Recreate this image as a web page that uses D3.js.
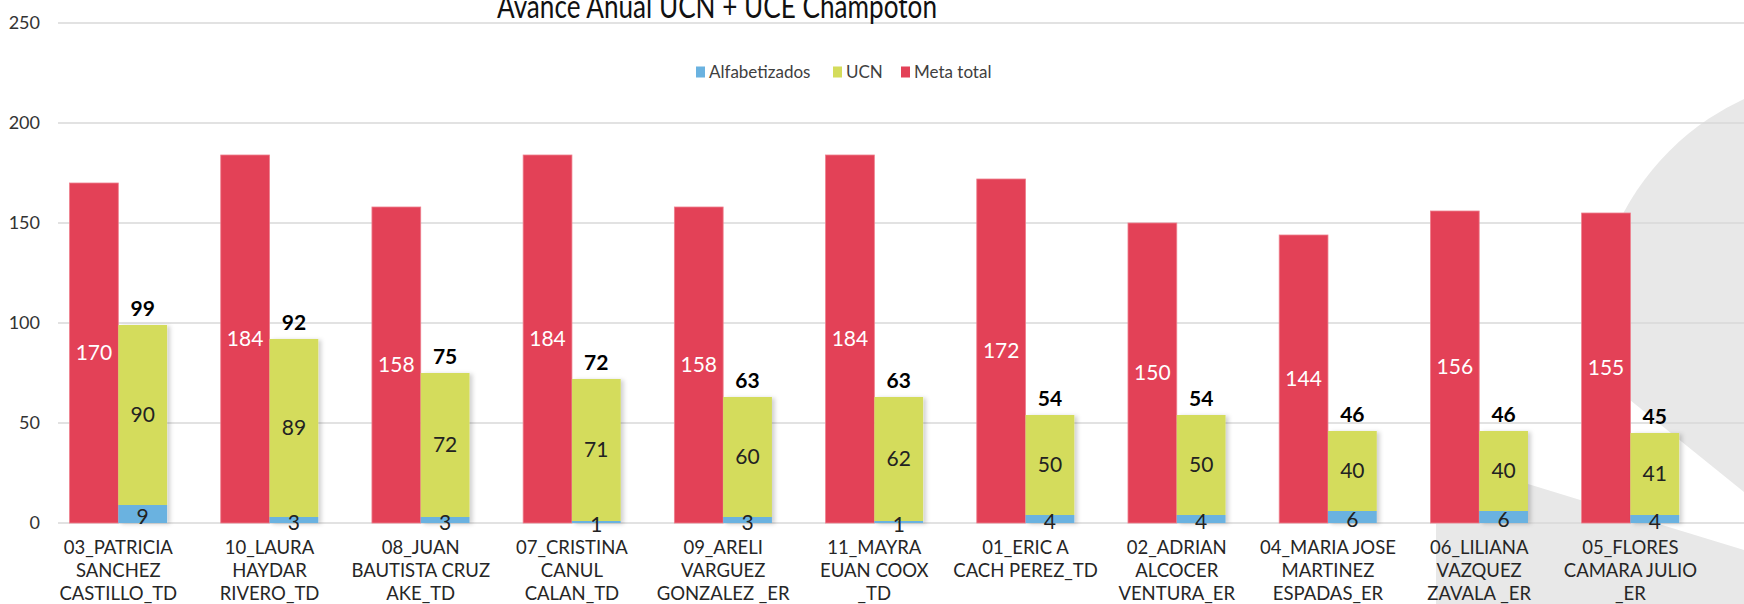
<!DOCTYPE html>
<html>
<head>
<meta charset="utf-8">
<script src="https://cdn.jsdelivr.net/npm/d3@7"></script>
<style>
html, body { margin: 0; padding: 0; background: #fff; overflow: hidden; }
#chart { width: 1744px; height: 604px; }
text { font-family: "Century Gothic", Lato, "Noto Sans", sans-serif; }
</style>
</head>
<body>
<div id="chart"></div>
<script>

/* ==========================
   Data
========================== */

const categories = [
"03_PATRICIA\nSANCHEZ\nCASTILLO_TD",
"10_LAURA\nHAYDAR\nRIVERO_TD",
"08_JUAN\nBAUTISTA CRUZ\nAKE_TD",
"07_CRISTINA\nCANUL\nCALAN_TD",
"09_ARELI\nVARGUEZ\nGONZALEZ _ER",
"11_MAYRA\nEUAN COOX\n_TD",
"01_ERIC A\nCACH PEREZ_TD",
"02_ADRIAN\nALCOCER\nVENTURA_ER",
"04_MARIA JOSE\nMARTINEZ\nESPADAS_ER",
"06_LILIANA\nVAZQUEZ\nZAVALA _ER",
"05_FLORES\nCAMARA JULIO\n_ER"
];

const metaTotal = [170, 184, 158, 184, 158, 184, 172, 150, 144, 156, 155];
const ucn = [90, 89, 72, 71, 60, 62, 50, 50, 40, 40, 41];
const alfabetizados = [9, 3, 3, 1, 3, 1, 4, 4, 6, 6, 4];

const yTicks = [0, 50, 100, 150, 200, 250];
const seriesNames = ["Alfabetizados", "UCN", "Meta total"];

const title = "Avance Anual UCN + UCE Champoton";

/* ==========================
   Setup
========================== */

const width = 1744;
const height = 604;

const colors = {
alf: "#6AB2E0",
ucn: "#D4DC5B",
meta: "#E34157"
};

const svg = d3.select("#chart")
.append("svg")
.attr("width", width)
.attr("height", height);

const defs = svg.append("defs");

const shadow = defs.append("filter")
.attr("id", "shadow")
.attr("x", "-20%").attr("y", "-20%")
.attr("width", "160%").attr("height", "140%");

shadow.append("feDropShadow")
.attr("dx", 3)
.attr("dy", 1)
.attr("stdDeviation", 2)
.attr("flood-color", "#000")
.attr("flood-opacity", 0.18);

// background decoration
defs.append("clipPath")
.attr("id", "cutCircle")
.append("polygon")
.attr("points", "1500,0 1744,0 1744,492 1630,400 1500,295");

svg.append("path")
.attr("d", () => {
const cx = 1853, cy = 335, r = 260;
const circle = d3.path();
circle.arc(cx, cy, r, 0, 2 * Math.PI);
return circle.toString();
})
.attr("fill", "#E8E8E8")
.attr("clip-path", "url(#cutCircle)");

svg.append("polygon")
.attr("points", "1436,456 1744,550 1744,604 1436,604")
.attr("fill", "#E8E8E8");

/* ==========================
   Scales
========================== */

const y = d3.scaleLinear()
.domain([0, 250])
.range([523, 23]);

const x = d3.scaleBand()
.domain(categories)
.range([42.7, 1706]);

const gapWidth = 1.1;

const inner = d3.scaleBand()
.domain(["meta", "stack"])
.range([0, x.bandwidth()])
.paddingOuter(gapWidth / 2);

/* ==========================
   Grid + Axis
========================== */

const grid = svg.append("g");

grid.selectAll("line")
.data(yTicks)
.enter()
.append("line")
.attr("x1", 58)
.attr("x2", width)
.attr("y1", d => y(d))
.attr("y2", d => y(d))
.attr("stroke", "#D9D9D9")
.attr("stroke-width", 1.5);

const yAxis = d3.axisLeft(y)
.tickValues(yTicks)
.tickSize(0)
.tickPadding(0);

svg.append("g")
.attr("transform", "translate(40,0)")
.call(yAxis)
.call(g => g.select(".domain").remove())
.selectAll("text")
.attr("font-size", 18)
.attr("font-family", "\"Century Gothic\", Lato, sans-serif")
.attr("fill", "#333");

/* ==========================
   Bars
========================== */

const rows = categories.map((c, i) => ({
cat: c,
meta: metaTotal[i],
ucn: ucn[i],
alf: alfabetizados[i]
}));

const groups = svg.append("g")
.selectAll("g")
.data(rows)
.enter()
.append("g")
.attr("transform", d => `translate(${x(d.cat)},0)`);

groups.append("rect")
.attr("x", inner("meta"))
.attr("width", inner.bandwidth())
.attr("y", d => y(d.meta))
.attr("height", d => y(0) - y(d.meta))
.attr("fill", colors.meta)
.attr("stroke", "#EE7F8D")
.attr("stroke-width", 0.8);

const stack = groups.append("g")
.attr("filter", "url(#shadow)");

stack.append("rect")
.attr("x", inner("stack"))
.attr("width", inner.bandwidth())
.attr("y", d => y(d.alf + d.ucn))
.attr("height", d => y(d.alf) - y(d.alf + d.ucn))
.attr("fill", colors.ucn);

stack.append("rect")
.attr("x", inner("stack"))
.attr("width", inner.bandwidth())
.attr("y", d => y(d.alf))
.attr("height", d => y(0) - y(d.alf))
.attr("fill", colors.alf);

/* ==========================
   Labels
========================== */

const midMeta = inner("meta") + inner.bandwidth() / 2;
const midStack = inner("stack") + inner.bandwidth() / 2;

groups.append("text")
.attr("x", midMeta)
.attr("y", d => y(d.meta / 2))
.attr("dy", "0.35em")
.attr("text-anchor", "middle")
.attr("font-size", 21)
.attr("fill", "#fff")
.text(d => d.meta);

groups.append("text")
.attr("x", midStack)
.attr("y", d => y(d.alf + d.ucn / 2))
.attr("dy", "0.35em")
.attr("text-anchor", "middle")
.attr("font-size", 21)
.attr("fill", "#222")
.text(d => d.ucn);

groups.append("text")
.attr("x", midStack)
.attr("y", d => y(d.alf / 2) + 3)
.attr("dy", "0.35em")
.attr("text-anchor", "middle")
.attr("font-size", 21)
.attr("fill", "#222")
.text(d => d.alf);

groups.append("text")
.attr("x", midStack)
.attr("y", d => y(d.alf + d.ucn) - 16)
.attr("dy", "0.35em")
.attr("text-anchor", "middle")
.attr("font-size", 21)
.attr("font-weight", "bold")
.attr("fill", "#000")
.text(d => d.alf + d.ucn);

// category labels
const catLabels = groups.append("text")
.attr("text-anchor", "middle")
.attr("font-size", 18.5)
.attr("fill", "#262626");

catLabels.selectAll("tspan")
.data(d => d.cat.split("\n"))
.enter()
.append("tspan")
.attr("x", x.bandwidth() / 2)
.attr("y", (d, i) => 554 + i * 23)
.text(d => d);

/* ==========================
   Legend
========================== */

const legendX = [696, 833, 901];
const legendColors = [colors.alf, colors.ucn, colors.meta];

const legend = svg.append("g")
.selectAll("g")
.data(seriesNames)
.enter()
.append("g")
.attr("transform", (d, i) => `translate(${legendX[i]},72)`);

legend.append("rect")
.attr("x", 0)
.attr("y", -5.5)
.attr("width", 9)
.attr("height", 11)
.attr("fill", (d, i) => legendColors[i]);

legend.append("text")
.attr("x", 13)
.attr("dy", "0.35em")
.attr("font-size", 17)
.attr("fill", "#404040")
.text(d => d);

/* ==========================
   Title
========================== */

svg.append("text")
.attr("x", 717)
.attr("y", 18)
.attr("text-anchor", "middle")
.attr("font-size", 32)
.attr("textLength", 440)
.attr("lengthAdjust", "spacingAndGlyphs")
.attr("fill", "#111")
.text(title);

</script>
</body>
</html>
